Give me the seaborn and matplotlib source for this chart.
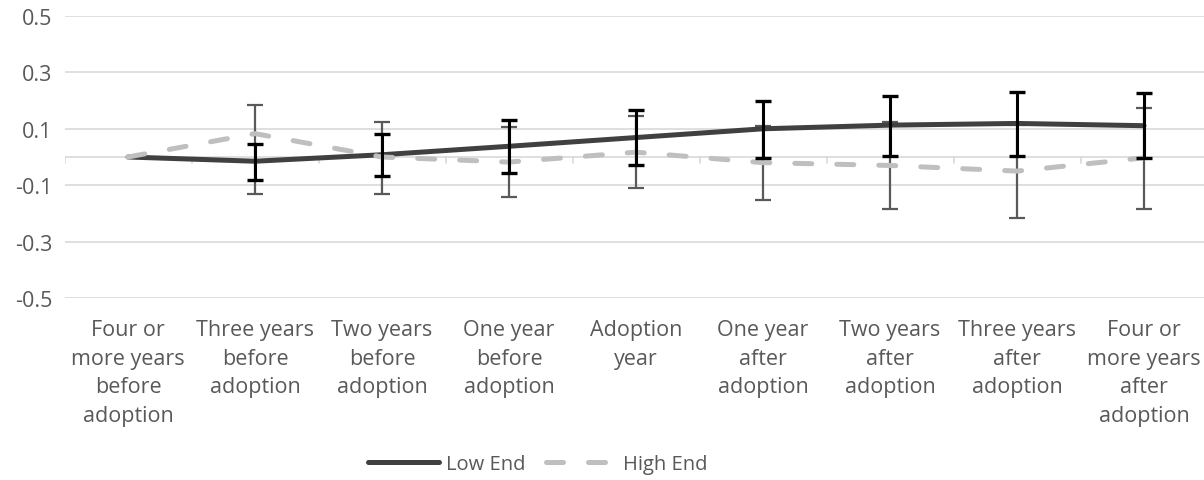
import matplotlib
matplotlib.use("Agg")
import matplotlib.pyplot as plt
import seaborn as sns
import pandas as pd
import numpy as np

categories = ["Four or\nmore years\nbefore\nadoption", "Three years\nbefore\nadoption",
              "Two years\nbefore\nadoption", "One year\nbefore\nadoption", "Adoption\nyear",
              "One year\nafter\nadoption", "Two years\nafter\nadoption",
              "Three years\nafter\nadoption", "Four or\nmore years\nafter\nadoption"]

low_end = [0.0, -0.015, 0.008, 0.038, 0.069, 0.100, 0.113, 0.119, 0.111]
low_upper = [0.0, 0.047, 0.082, 0.132, 0.167, 0.197, 0.216, 0.229, 0.228]
low_lower = [0.0, -0.080, -0.067, -0.056, -0.029, -0.004, 0.003, 0.004, -0.005]

high_end = [0.0, 0.083, 0.0, -0.018, 0.017, -0.020, -0.030, -0.050, -0.003]
high_upper = [0.0, 0.184, 0.123, 0.105, 0.145, 0.109, 0.124, 0.115, 0.174]
high_lower = [0.0, -0.130, -0.130, -0.142, -0.109, -0.151, -0.184, -0.215, -0.184]

yticks = [-0.5, -0.3, -0.1, 0.1, 0.3, 0.5]

sns.set_style("white")
plt.rcParams["font.family"] = ["Open Sans", "DejaVu Sans"]
txt = "#595959"

df = pd.DataFrame({
    "x": list(range(len(categories))) * 2,
    "value": low_end + high_end,
    "series": ["Low End"] * len(categories) + ["High End"] * len(categories),
})

fig = plt.figure(figsize=(12.04, 4.81), dpi=100)
ax = fig.add_axes([64.5 / 1204, (481 - 299) / 481, 1143 / 1204, 282 / 481])

for y in yticks:
    ax.axhline(y, color="#D9D9D9", lw=1.2, zorder=0)
ax.axhline(0, color="#D9D9D9", lw=1.2, zorder=0)
for b in np.arange(-0.5, len(categories), 1.0):
    ax.plot([b, b], [0, -0.02], color="#D9D9D9", lw=1.2, zorder=0)

x = np.arange(len(categories))
# error bars
he = np.array(high_end)
ax.errorbar(x[1:], he[1:], yerr=[he[1:] - np.array(high_lower[1:]), np.array(high_upper[1:]) - he[1:]],
            fmt="none", ecolor="#595959", elinewidth=1.6, capsize=6, capthick=1.6, zorder=2)
le = np.array(low_end)
ax.errorbar(x[1:], le[1:], yerr=[le[1:] - np.array(low_lower[1:]), np.array(low_upper[1:]) - le[1:]],
            fmt="none", ecolor="#000000", elinewidth=2.2, capsize=6, capthick=2.4, zorder=4)

sns.lineplot(data=df[df.series == "Low End"], x="x", y="value", ax=ax, color="#404040",
             lw=3.6, solid_capstyle="round", label="Low End", zorder=3)
sns.lineplot(data=df[df.series == "High End"], x="x", y="value", ax=ax, color="#BFBFBF",
             lw=3.6, dashes=(3.4, 5.0), dash_capstyle="round", label="High End", zorder=3)

ax.set_xlim(-0.5, len(categories) - 0.5)
ax.set_ylim(-0.5, 0.5)
ax.set_yticks(yticks)
ax.set_yticklabels([f"{v:.1f}" for v in yticks])
ax.set_xticks(x)
ax.set_xticklabels(categories, linespacing=1.48)
ax.tick_params(axis="x", length=0, pad=15, labelsize=15.5, labelcolor=txt)
ax.tick_params(axis="y", length=0, pad=9, labelsize=15.5, labelcolor=txt)
ax.set_xlabel("")
ax.set_ylabel("")
for s in ax.spines.values():
    s.set_visible(False)

leg = ax.legend(loc="center", bbox_to_anchor=(538 / 1204, 16 / 481), bbox_transform=fig.transFigure,
                ncol=2, frameon=False, fontsize=14.5, handlelength=3.5, handletextpad=0.35,
                columnspacing=1.0)
for t in leg.get_texts():
    t.set_color(txt)

fig.savefig("out.png", dpi=100)
